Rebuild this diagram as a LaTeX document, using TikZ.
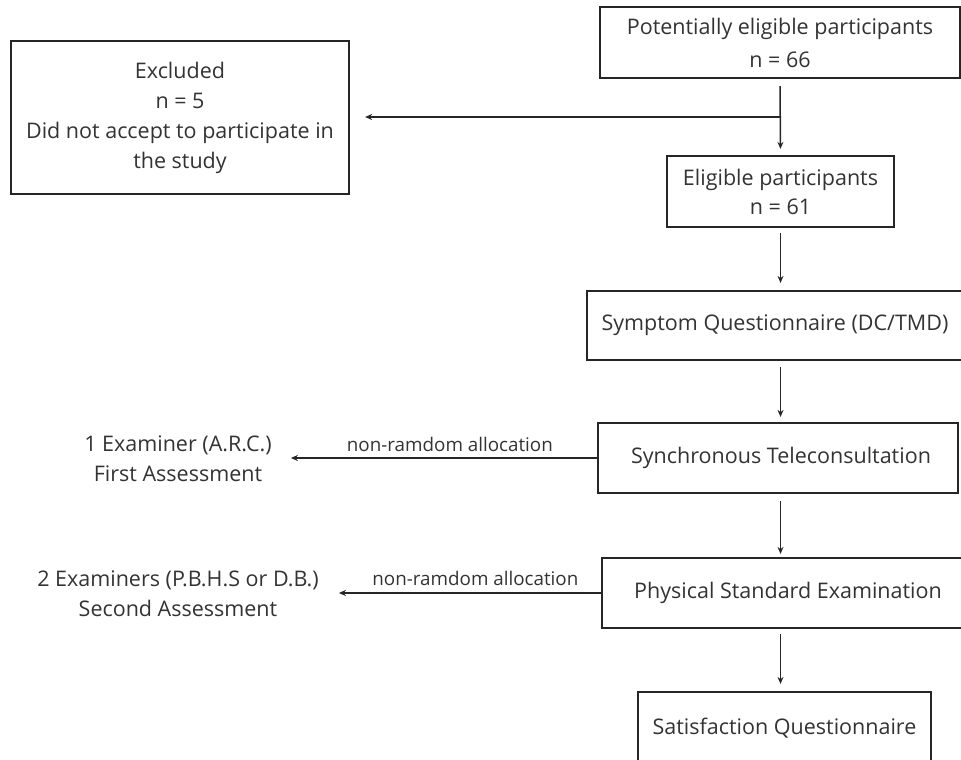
\documentclass[tikz,border=0pt]{standalone}
\usepackage{fontspec}
\setmainfont{Open Sans}
\usetikzlibrary{arrows.meta}
\definecolor{ink}{HTML}{262626}
\definecolor{txt}{HTML}{333333}
\begin{document}
\begin{tikzpicture}[x=1pt,y=-1pt,
  box/.style={draw=ink, line width=2.2pt, inner sep=0pt, align=center,
    text=txt, font=\fontsize{21.5}{30}\selectfont},
  plain/.style={inner sep=0pt, align=center, text=txt,
    font=\fontsize{21.5}{29.5}\selectfont},
  lbl/.style={inner sep=0pt, text=txt, font=\fontsize{18.8}{22}\selectfont},
  arr/.style={draw=ink, line width=1.5pt, -{Stealth[length=7pt,width=6pt]}}]
\useasboundingbox (0,0) rectangle (961,760);

% main column of boxes
\node[box, minimum width=360, minimum height=71] (pot) at (780,42.5)
  {Potentially eligible participants\\[3pt]n = 66};
\node[box, minimum width=338, minimum height=153] (excl) at (180,117.5)
  {Excluded\\n = 5\\Did not accept to participate in\\the study};
\node[box, minimum width=227, minimum height=71] (elig) at (780.5,191.5)
  {Eligible participants\\[-1pt]n = 61};
\node[box, minimum width=376, minimum height=69] (symp) at (775,325.5)
  {Symptom Questionnaire (DC/TMD)};
\node[box, minimum width=360, minimum height=70] (sync) at (778,458)
  {\hspace*{6pt}Synchronous Teleconsultation};
\node[box, minimum width=361, minimum height=70] (phys) at (782.5,593)
  {\hspace*{11pt}Physical Standard Examination};
\node[box, minimum width=293, minimum height=73] (sat) at (784.5,728.5)
  {Satisfaction Questionnaire};

% examiner notes on the left
\node[plain] (ex1) at (178,458.5) {1 Examiner (A.R.C.)\\First Assessment};
\node[plain] (ex2) at (178,593.5) {2 Examiners (P.B.H.S or D.B.)\\Second Assessment};

% branch point for the exclusion line
\coordinate (br) at (780,117);

% connectors
\draw[arr, shorten <=7pt, shorten >=6pt] (pot.south) -- (elig.north);
\draw[arr, shorten >=15pt] (br) -- (br -| excl.east);
\draw[arr, shorten <=5pt, shorten >=7pt] (elig.south) -- (elig.south |- symp.north);
\draw[arr, shorten <=6pt, shorten >=5pt] (elig.south |- symp.south) -- (elig.south |- sync.north);
\draw[arr, shorten <=7pt, shorten >=3pt] (elig.south |- sync.south) -- (elig.south |- phys.north);
\draw[arr, shorten <=5pt, shorten >=7pt] (elig.south |- phys.south) -- (elig.south |- sat.north);
\draw[arr, shorten >=19pt] (sync.west) -- (sync.west -| ex1.east)
  node[lbl, midway, xshift=15.5pt, yshift=14pt] (l1) {non-ramdom allocation};
\draw[arr, shorten >=20pt] (phys.west) -- (phys.west -| ex2.east)
  node[lbl, midway, xshift=15.5pt, yshift=15pt] (l2) {non-ramdom allocation};
\end{tikzpicture}
\end{document}
